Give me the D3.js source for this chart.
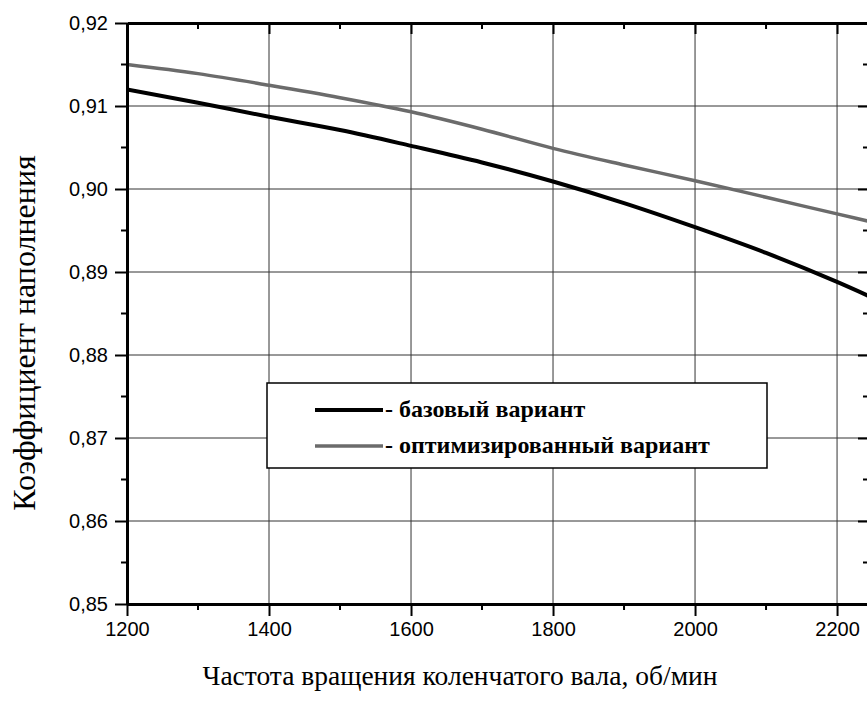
<!DOCTYPE html>
<html>
<head>
<meta charset="utf-8">
<script src="https://cdn.jsdelivr.net/npm/d3@7"></script>
<style>
  body { margin: 0; background: #fff; }
  svg { display: block; }
</style>
</head>
<body>
<div id="chart"></div>
<script>
// data
const rpm = [1200, 1300, 1400, 1500, 1600, 1700, 1800, 1900, 2000, 2100, 2200, 2250];
const baseVals = [0.9120, 0.9104, 0.9087, 0.9071, 0.9052, 0.9032, 0.9009, 0.8983, 0.8954, 0.8923, 0.8888, 0.8869];
const optVals  = [0.9150, 0.9139, 0.9125, 0.9110, 0.9093, 0.9072, 0.9049, 0.9029, 0.9010, 0.8990, 0.8970, 0.8960];
const xTicks = [1200, 1400, 1600, 1800, 2000, 2200];
const xMinor = [1300, 1500, 1700, 1900, 2100];
const yTicks = [0.85, 0.86, 0.87, 0.88, 0.89, 0.90, 0.91, 0.92];
const yMinor = [0.855, 0.865, 0.875, 0.885, 0.895, 0.905, 0.915];
const legendNames = ["- базовый вариант", "- оптимизированный вариант"];

window.onload = function () {
    drawChart();
};

function drawChart() {
    let W = 867, H = 715;
    let margin = {top: 23, left: 127, bottom: 111},
        width = 869 - margin.left,
        height = H - margin.top - margin.bottom;

    let svg = d3.select("#chart")
        .append("svg")
        .attr("width", W)
        .attr("height", H);

    let g = svg.append("g")
        .attr("transform", "translate(" + margin.left + "," + margin.top + ")");

    let x = d3.scaleLinear().domain([1200, 2245]).range([0, width]);
    let y = d3.scaleLinear().domain([0.85, 0.92]).range([height, 0]);

    // grid lines
    g.selectAll(".vgrid")
        .data(xTicks.slice(1))
        .enter().append("line")
        .attr("x1", d => x(d)).attr("x2", d => x(d))
        .attr("y1", 0).attr("y2", height)
        .attr("stroke", "#333").attr("stroke-width", 1);
    g.selectAll(".hgrid")
        .data(yTicks.slice(1, -1))
        .enter().append("line")
        .attr("x1", 0).attr("x2", width)
        .attr("y1", d => y(d)).attr("y2", d => y(d))
        .attr("stroke", "#333").attr("stroke-width", 1);

    // curves, clipped to the plot
    svg.append("defs").append("clipPath").attr("id", "clip")
        .append("rect").attr("width", width).attr("height", height);

    let line = d3.line()
        .x(d => x(d[0]))
        .y(d => y(d[1]))
        .curve(d3.curveMonotoneX);

    let series = [
        {vals: optVals, color: "#6b6b6b", w: 3.5},
        {vals: baseVals, color: "#000", w: 4}
    ];
    series.forEach(function (s) {
        g.append("path")
            .datum(rpm.map((r, i) => [r, s.vals[i]]))
            .attr("clip-path", "url(#clip)")
            .attr("d", line)
            .attr("fill", "none")
            .attr("stroke", s.color)
            .attr("stroke-width", s.w);
    });

    // axes
    let fmt = d => d3.format(".2f")(d).replace(".", ",");

    let bottom = g.append("g")
        .attr("transform", "translate(0," + height + ")")
        .call(d3.axisBottom(x).tickValues(xTicks).tickFormat(d => String(d)).tickSize(12).tickSizeOuter(0).tickPadding(6));
    bottom.append("g").selectAll("line").data(xMinor).enter().append("line")
        .attr("x1", d => x(d)).attr("x2", d => x(d)).attr("y1", 0).attr("y2", 6)
        .attr("stroke", "#000").attr("stroke-width", 2);

    let left = g.append("g")
        .call(d3.axisLeft(y).tickValues(yTicks).tickFormat(fmt).tickSize(12).tickSizeOuter(0).tickPadding(7));
    left.append("g").selectAll("line").data(yMinor).enter().append("line")
        .attr("y1", d => y(d)).attr("y2", d => y(d)).attr("x1", 0).attr("x2", -6)
        .attr("stroke", "#000").attr("stroke-width", 2);

    let top = g.append("g")
        .call(d3.axisBottom(x).tickValues(xTicks).tickFormat("").tickSize(11).tickSizeOuter(0));
    top.append("g").selectAll("line").data(xMinor).enter().append("line")
        .attr("x1", d => x(d)).attr("x2", d => x(d)).attr("y1", 0).attr("y2", 6)
        .attr("stroke", "#000").attr("stroke-width", 2);

    let right = g.append("g")
        .attr("transform", "translate(" + width + ",0)")
        .call(d3.axisLeft(y).tickValues(yTicks).tickFormat("").tickSize(11).tickSizeOuter(0));
    right.append("g").selectAll("line").data(yMinor).enter().append("line")
        .attr("y1", d => y(d)).attr("y2", d => y(d)).attr("x1", 0).attr("x2", -6)
        .attr("stroke", "#000").attr("stroke-width", 2);

    [bottom, left, top, right].forEach(function (a) {
        a.select(".domain").attr("stroke", "#000").attr("stroke-width", 3);
        a.selectAll(".tick line").attr("stroke", "#000").attr("stroke-width", 2);
        a.selectAll("text")
            .attr("fill", "#000")
            .style("font-family", "'Liberation Sans', Arial, sans-serif")
            .style("font-size", "20px");
    });

    // legend
    let lg = g.append("g").attr("transform", "translate(" + (267 - margin.left) + "," + (383 - margin.top) + ")");
    lg.append("rect")
        .attr("width", 500).attr("height", 85)
        .attr("fill", "#fff").attr("stroke", "#000").attr("stroke-width", 1.5);
    let items = [{name: legendNames[0], color: "#000", w: 4}, {name: legendNames[1], color: "#6b6b6b", w: 3.5}];
    items.forEach(function (it, i) {
        let yy = 27 + i * 36;
        lg.append("line")
            .attr("x1", 48).attr("x2", 116).attr("y1", yy).attr("y2", yy)
            .attr("stroke", it.color).attr("stroke-width", it.w);
        lg.append("text")
            .attr("x", 118).attr("y", yy + 7)
            .style("font-family", "'Liberation Serif', 'Times New Roman', serif")
            .style("font-weight", "bold")
            .style("font-size", "24px")
            .text(it.name);
    });

    // axis titles
    svg.append("text")
        .attr("x", 460).attr("y", 685)
        .attr("text-anchor", "middle")
        .style("font-family", "'Liberation Serif', 'Times New Roman', serif")
        .style("font-size", "27.5px")
        .text("Частота вращения коленчатого вала, об/мин");

    svg.append("text")
        .attr("transform", "translate(35,333) rotate(-90)")
        .attr("text-anchor", "middle")
        .style("font-family", "'Liberation Serif', 'Times New Roman', serif")
        .style("font-size", "32px")
        .text("Коэффициент наполнения");
}
</script>
</body>
</html>
